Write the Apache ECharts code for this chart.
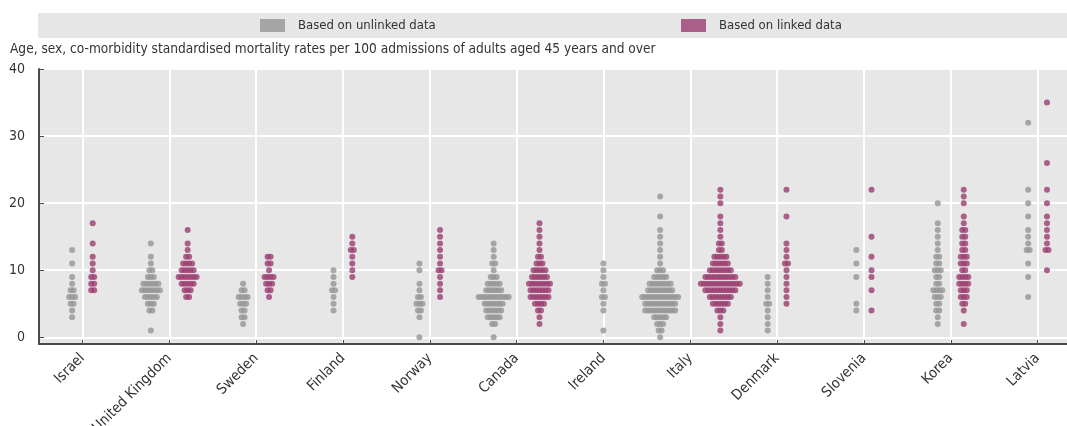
<!DOCTYPE html>
<html>
<head>
<meta charset="utf-8">
<script src="https://cdn.jsdelivr.net/npm/echarts@6/dist/echarts.min.js"></script>
<style>
  html, body { margin: 0; padding: 0; background: #fff; }
  #chart { width: 1067px; height: 426px; }
</style>
</head>
<body>
<div id="chart"></div>
<script>
var countries = ['Israel', 'United Kingdom', 'Sweden', 'Finland', 'Norway', 'Canada',
    'Ireland', 'Italy', 'Denmark', 'Slovenia', 'Korea', 'Latvia'];

// [rate, number of hospitals at that rate], one list per country
var unlinked = [
    [[13,1],[11,1],[9,1],[8,1],[7,2],[6,3],[5,2],[4,1],[3,1]],
    [[14,1],[12,1],[11,1],[10,2],[9,3],[8,6],[7,7],[6,5],[5,3],[4,2],[1,1]],
    [[8,1],[7,2],[6,4],[5,3],[4,2],[3,2],[2,1]],
    [[10,1],[9,1],[8,1],[7,2],[6,1],[5,1],[4,1]],
    [[11,1],[10,1],[8,1],[7,1],[6,2],[5,3],[4,2],[3,1],[0,1]],
    [[14,1],[13,1],[12,1],[11,2],[10,1],[9,3],[8,5],[7,6],[6,11],[5,7],[4,6],[3,5],[2,2],[0,1]],
    [[11,1],[10,1],[9,1],[8,2],[7,1],[6,2],[5,1],[4,1],[1,1]],
    [[21,1],[18,1],[16,1],[15,1],[14,1],[13,1],[12,1],[11,1],[10,3],[9,5],[8,8],[7,9],[6,13],[5,11],[4,11],[3,5],[2,3],[1,2],[0,1]],
    [[9,1],[8,1],[7,1],[6,1],[5,2],[4,1],[3,1],[2,1],[1,1]],
    [[13,1],[11,1],[9,1],[5,1],[4,1]],
    [[20,1],[17,1],[16,1],[15,1],[14,1],[13,1],[12,2],[11,2],[10,3],[9,2],[8,2],[7,4],[6,3],[5,2],[4,2],[3,1],[2,1]],
    [[32,1],[22,1],[20,1],[18,1],[16,1],[15,1],[14,1],[13,2],[11,1],[9,1],[6,1]]
];

var linked = [
    [[17,1],[14,1],[12,1],[11,1],[10,1],[9,2],[8,2],[7,2]],
    [[16,1],[14,1],[13,1],[12,2],[11,4],[10,5],[9,7],[8,5],[7,3],[6,2]],
    [[12,2],[11,2],[10,1],[9,4],[8,3],[7,2],[6,1]],
    [[15,1],[14,1],[13,2],[12,1],[11,1],[10,1],[9,1]],
    [[16,1],[15,1],[14,1],[13,1],[12,1],[11,1],[10,2],[9,1],[8,1],[7,1],[6,1]],
    [[17,1],[16,1],[15,1],[14,1],[13,1],[12,2],[11,3],[10,5],[9,6],[8,8],[7,7],[6,7],[5,4],[4,2],[3,1],[2,1]],
    [],
    [[22,1],[21,1],[20,1],[18,1],[17,1],[16,1],[15,1],[14,2],[13,2],[12,5],[11,6],[10,8],[9,11],[8,14],[7,11],[6,8],[5,6],[4,3],[3,1],[2,1],[1,1]],
    [[22,1],[18,1],[14,1],[13,1],[12,1],[11,2],[10,1],[9,1],[8,1],[7,1],[6,1],[5,1]],
    [[22,1],[15,1],[12,1],[10,1],[9,1],[7,1],[4,1]],
    [[22,1],[21,1],[20,1],[18,1],[17,1],[16,2],[15,2],[14,2],[13,2],[12,3],[11,3],[10,2],[9,4],[8,4],[7,3],[6,3],[5,2],[4,1],[2,1]],
    [[35,1],[26,1],[22,1],[20,1],[18,1],[17,1],[16,1],[15,1],[14,1],[13,2],[10,1]]
];

var yTicks = [0, 10, 20, 30, 40];

var FONT = "'Liberation Sans Narrow', 'Arial Narrow', 'DejaVu Sans Condensed', sans-serif";
var GRAY = '#959595', PURPLE = '#9b3d70';
var DOT = 6, STEP = 3;

var myChart = echarts.init(document.getElementById('chart'));

var baseOption = {
    animation: false,
    textStyle: { fontFamily: FONT },
    graphic: [{
        type: 'rect', z: 0,
        shape: { x: 38, y: 13, width: 1040, height: 25 },
        style: { fill: '#e6e6e6' }
    }],
    title: {
        text: 'Age, sex, co-morbidity standardised mortality rates per 100 admissions of adults aged 45 years and over',
        left: 5, top: 37,
        textStyle: { fontFamily: FONT, fontSize: 13.6, fontWeight: 'normal', color: '#333' }
    },
    legend: [
        { data: ['Based on unlinked data'], left: 255, top: 14, icon: 'rect', itemWidth: 25, itemHeight: 13,
          textStyle: { fontFamily: FONT, fontSize: 13, color: '#333', padding: [0, 0, 0, 8] } },
        { data: ['Based on linked data'], left: 676, top: 14, icon: 'rect', itemWidth: 25, itemHeight: 13,
          textStyle: { fontFamily: FONT, fontSize: 13, color: '#333', padding: [0, 0, 0, 8] } }
    ],
    grid: {
        left: 39, top: 69, right: -14, bottom: 82,
        containLabel: false, outerBoundsMode: 'none',
        show: true, backgroundColor: '#e7e7e7', borderWidth: 0
    },
    xAxis: {
        type: 'value', min: -0.5, max: 11.5, splitNumber: 12, minInterval: 1, maxInterval: 1,
        axisLine: { show: true, onZero: false, lineStyle: { color: '#4a4a4a', width: 2 } },
        axisTick: { show: true, inside: true, length: 4, lineStyle: { color: '#4a4a4a' } },
        splitLine: { show: true, lineStyle: { color: '#ffffff', width: 2 } },
        axisLabel: {
            rotate: 45, margin: 12, fontSize: 14.5, color: '#333', fontFamily: FONT,
            formatter: function (v) { return Number.isInteger(v) ? countries[v] : ''; }
        }
    },
    yAxis: {
        type: 'value', min: -1, max: 40, splitNumber: 4, minInterval: 10, maxInterval: 10,
        axisLine: { show: true, onZero: false, lineStyle: { color: '#4a4a4a', width: 2 } },
        axisTick: { show: true, inside: true, length: 5, lineStyle: { color: '#4a4a4a' } },
        splitLine: { show: true, lineStyle: { color: '#ffffff', width: 2 } },
        axisLabel: {
            margin: 14, fontSize: 14, color: '#333', fontFamily: FONT,
            formatter: function (v) { return yTicks.indexOf(v) >= 0 ? String(v) : ''; }
        }
    },
    series: [
        { name: 'Based on unlinked data', type: 'scatter', data: [], itemStyle: { color: GRAY } },
        { name: 'Based on linked data', type: 'scatter', data: [], itemStyle: { color: PURPLE } }
    ]
};
myChart.setOption(baseOption);

// pixels per category on the x axis
var pxPerCat = myChart.convertToPixel({ xAxisIndex: 0 }, 1) - myChart.convertToPixel({ xAxisIndex: 0 }, 0);

function maxWidth(rows) {
    var m = 0;
    rows.forEach(function (r) { m = Math.max(m, DOT + STEP * (r[1] - 1)); });
    return m;
}

function swarm(rows, center) {
    var pts = [];
    rows.forEach(function (r) {
        var n = r[1];
        for (var k = 0; k < n; k++) {
            pts.push([center + (k - (n - 1) / 2) * STEP / pxPerCat, r[0]]);
        }
    });
    return pts;
}

var grayPts = [], purplePts = [];
countries.forEach(function (c, i) {
    var wg = maxWidth(unlinked[i]);
    var wp = linked[i].length ? maxWidth(linked[i]) : 0;
    var off = wp ? (0.6 * (wg + wp) / 2 + 4) / pxPerCat : 0;
    grayPts = grayPts.concat(swarm(unlinked[i], i - off));
    purplePts = purplePts.concat(swarm(linked[i], i + off));
});

myChart.setOption({
    series: [
        { name: 'Based on unlinked data', symbolSize: DOT, data: grayPts },
        { name: 'Based on linked data', symbolSize: DOT, data: purplePts }
    ]
});
</script>
</body>
</html>
